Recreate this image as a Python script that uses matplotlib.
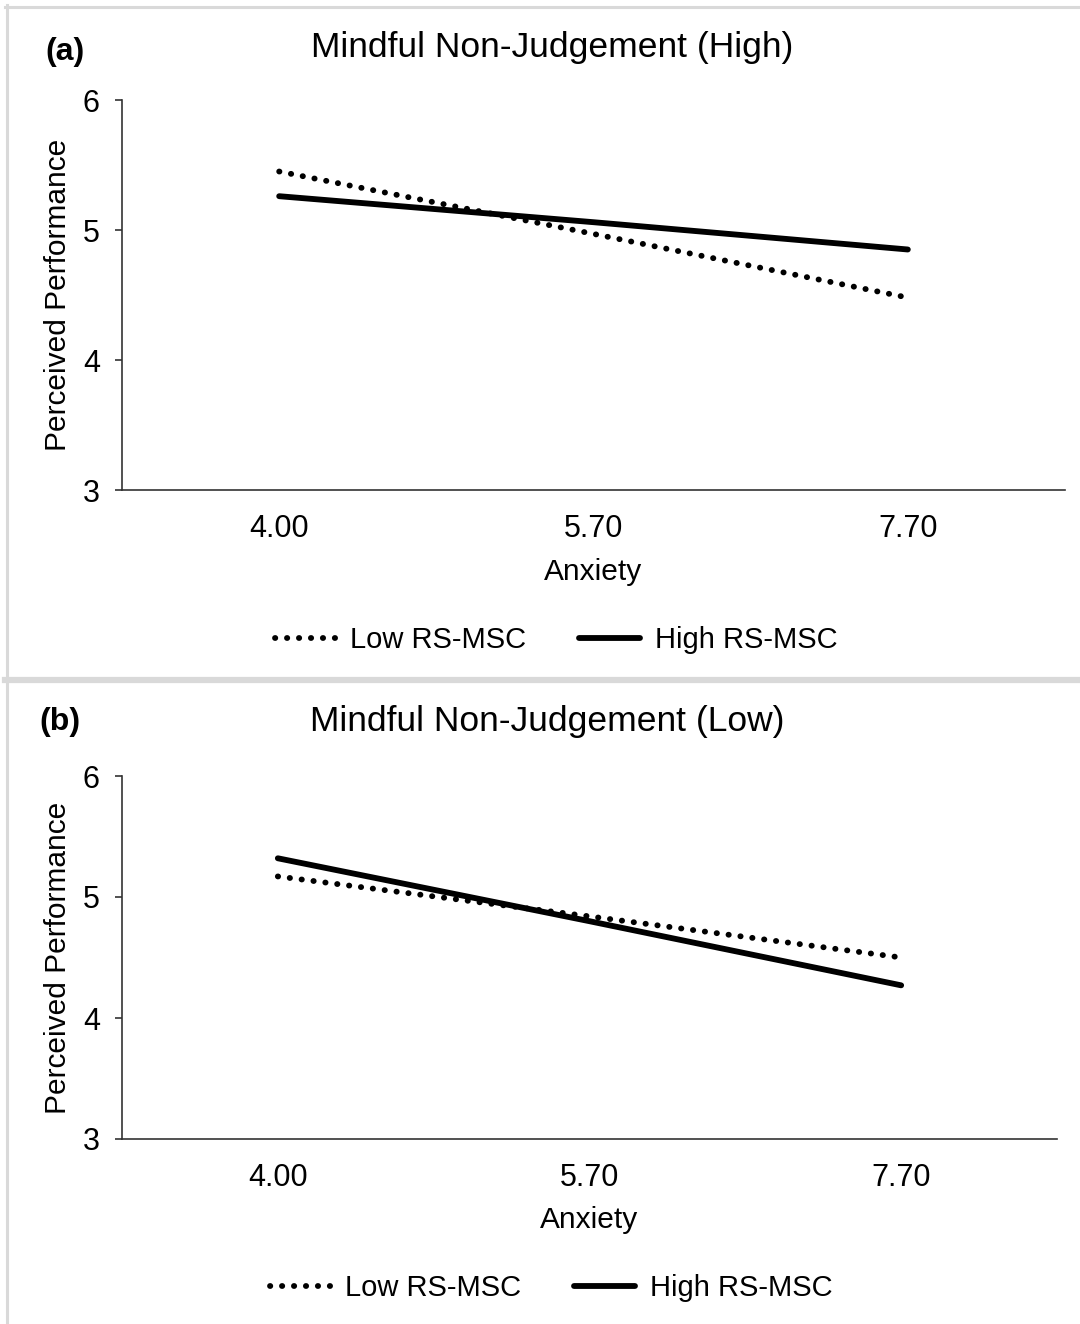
import numpy as np
import matplotlib
matplotlib.use('Agg')
import matplotlib.pyplot as plt
from matplotlib.lines import Line2D

plt.rcParams['font.family'] = ['Liberation Sans', 'DejaVu Sans']

# ============================================
# Data
# ============================================
anxiety = ['4.00', '5.70', '7.70']
series_names = ['Low RS-MSC', 'High RS-MSC']

high_low_msc = [5.45, 4.97, 4.48]
high_high_msc = [5.26, 5.06, 4.85]

low_low_msc = [5.17, 4.84, 4.50]
low_high_msc = [5.32, 4.80, 4.27]

panels = [
    ('(a)', 'Mindful Non-Judgement (High)', high_low_msc, high_high_msc),
    ('(b)', 'Mindful Non-Judgement (Low)', low_low_msc, low_high_msc),
]

# ============================================
# Layout (pixels)
# ============================================
W, H = 1080, 1324
fig = plt.figure(figsize=(W / 100, H / 100), dpi=100)

def fx(px):
    return px / W

def fy(py):
    return 1 - py / H

# axes boxes: left, right, top, bottom in pixels
boxes = [(122, 1065, 100, 490), (122, 1057, 776, 1139)]
tag_pos = [(65, 52), (60, 722)]
title_pos = [(552, 48), (547, 722)]
legend_pos = [(556, 640), (551, 1288)]

# panel borders
border = '#d9d9d9'
fig.add_artist(Line2D([fx(6.5), fx(6.5)], [fy(5), fy(H)], color=border, lw=2.2))
fig.add_artist(Line2D([fx(5), fx(W)], [fy(6.5), fy(6.5)], color=border, lw=2.2))
fig.add_artist(Line2D([fx(5), fx(W)], [fy(680), fy(680)], color=border, lw=4.5))

for i, (tag, title, low, high) in enumerate(panels):
    l, r, t, b = boxes[i]
    ax = fig.add_axes([fx(l), fy(b), fx(r - l), (b - t) / H])
    x = np.arange(len(anxiety)) + 0.5
    ax.plot(x, low, color='black', lw=4.2, linestyle=(0, (0.05, 2.0)),
            dash_capstyle='round', label=series_names[0])
    ax.plot(x, high, color='black', lw=4.2, solid_capstyle='round',
            label=series_names[1])

    ax.set_xlim(0, len(anxiety))
    ax.set_ylim(3, 6)
    ax.set_yticks([3, 4, 5, 6])
    ax.set_xticks(x)
    ax.set_xticklabels(anxiety)
    ax.tick_params(axis='x', length=0, pad=17, labelsize=22)
    ax.tick_params(axis='y', length=5, width=1.2, pad=11, labelsize=22,
                   direction='out', color='#333333')
    for s in ['top', 'right']:
        ax.spines[s].set_visible(False)
    for s in ['left', 'bottom']:
        ax.spines[s].set_color('#333333')
        ax.spines[s].set_linewidth(1.2)

    ax.set_xlabel('Anxiety', fontsize=21.5, labelpad=10)
    ax.set_ylabel('Perceived Performance', fontsize=21.5)
    ax.yaxis.set_label_coords((72 - l) / (r - l), 0.5)

    fig.text(fx(tag_pos[i][0]), fy(tag_pos[i][1]), tag, fontsize=23,
             fontweight='bold', ha='center', va='center')
    fig.text(fx(title_pos[i][0]), fy(title_pos[i][1]), title, fontsize=25.5,
             ha='center', va='center')

    handles, labels = ax.get_legend_handles_labels()
    fig.legend(handles, labels, loc='center',
               bbox_to_anchor=(fx(legend_pos[i][0]), fy(legend_pos[i][1])),
               ncol=2, frameon=False, fontsize=21, handlelength=2.1,
               handletextpad=0.5, columnspacing=1.8)

fig.savefig('out.png', dpi=100, facecolor='white')
